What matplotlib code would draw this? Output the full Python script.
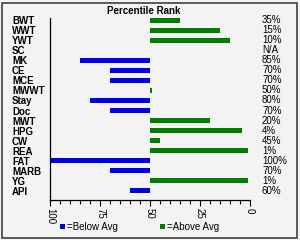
import numpy as np
import matplotlib
matplotlib.use('Agg')
import matplotlib.pyplot as plt
import matplotlib.transforms as mtransforms
from matplotlib.patches import Rectangle

# Data
categories = ['BWT', 'WWT', 'YWT', 'SC', 'MK', 'CE', 'MCE', 'MWWT', 'Stay', 'Doc',
              'MWT', 'HPG', 'CW', 'REA', 'FAT', 'MARB', 'YG', 'API']
ranks = [35, 15, 10, np.nan, 85, 70, 70, 49, 80, 70,
         20, 4, 45, 1, 100, 70, 1, 60]
rank_labels = ['35%', '15%', '10%', 'N/A', '85%', '70%', '70%', '50%', '80%', '70%',
               '20%', '4%', '45%', '1%', '100%', '70%', '1%', '60%']
avg = 50
xticks = [100, 75, 50, 25, 0]

plt.rcParams['font.family'] = ['Liberation Sans', 'DejaVu Sans']
plt.rcParams['font.size'] = 7

W, H = 300, 240
fig = plt.figure(figsize=(W / 100, H / 100), dpi=100, facecolor='#f3f3f3')
ax = fig.add_axes([50 / W, 1 - 200 / H, 200 / W, 182 / H])
ax.set_facecolor('none')

blue = '#0000e6'
green = '#007f00'
ranks = np.array(ranks, dtype=float)
y = np.arange(len(categories))
below = ranks > avg
above = ranks < avg
hb = ax.barh(y[below], ranks[below] - avg, left=avg, height=0.5, color=blue, label='=Below Avg')
ha = ax.barh(y[above], ranks[above] - avg, left=avg, height=0.5, color=green, label='=Above Avg')

ax.set_xlim(100, 0)
ax.set_ylim(len(categories) - 0.1, -0.2)

# x axis ticks
ax.set_xticks(xticks)
ax.set_xticklabels([str(t) for t in xticks], rotation=-90)
ax.set_xticks(np.arange(0, 101, 5), minor=True)
ax.tick_params(axis='x', which='major', length=4, width=0.8, direction='out', pad=2)
ax.tick_params(axis='x', which='minor', length=3, width=0.8, direction='out')

# category labels on the left
ax.set_yticks(y)
ax.set_yticklabels(categories, fontweight='bold', ha='left')
ax.tick_params(axis='y', length=0, pad=38 * 0.72)

for s in ['top', 'right']:
    ax.spines[s].set_visible(False)
ax.spines['left'].set_linewidth(0.9)
ax.spines['bottom'].set_linewidth(0.9)

# percentile labels on the right
trans = mtransforms.blended_transform_factory(fig.transFigure, ax.transData)
for yi, lab in zip(y, rank_labels):
    ax.text(262 / W, yi, lab, transform=trans, ha='left', va='center', fontsize=7)

fig.text(143.5 / W, 1 - 11 / H, 'Percentile Rank', ha='center', va='center',
         fontweight='bold', fontsize=7)

fig.legend(handles=[hb, ha], loc='center left', bbox_to_anchor=(60 / W, 1 - 227 / H),
           ncol=2, frameon=False, handlelength=0.55, handleheight=0.55,
           handletextpad=0.2, columnspacing=4.3, borderpad=0, borderaxespad=0,
           fontsize=7)

# outer border
fig.patches.append(Rectangle((1.5 / W, 2.5 / H), 295.5 / W, 235 / H,
                             transform=fig.transFigure, fill=False,
                             edgecolor='#404040', linewidth=1.2))

fig.savefig('out.png', dpi=100, facecolor=fig.get_facecolor())
